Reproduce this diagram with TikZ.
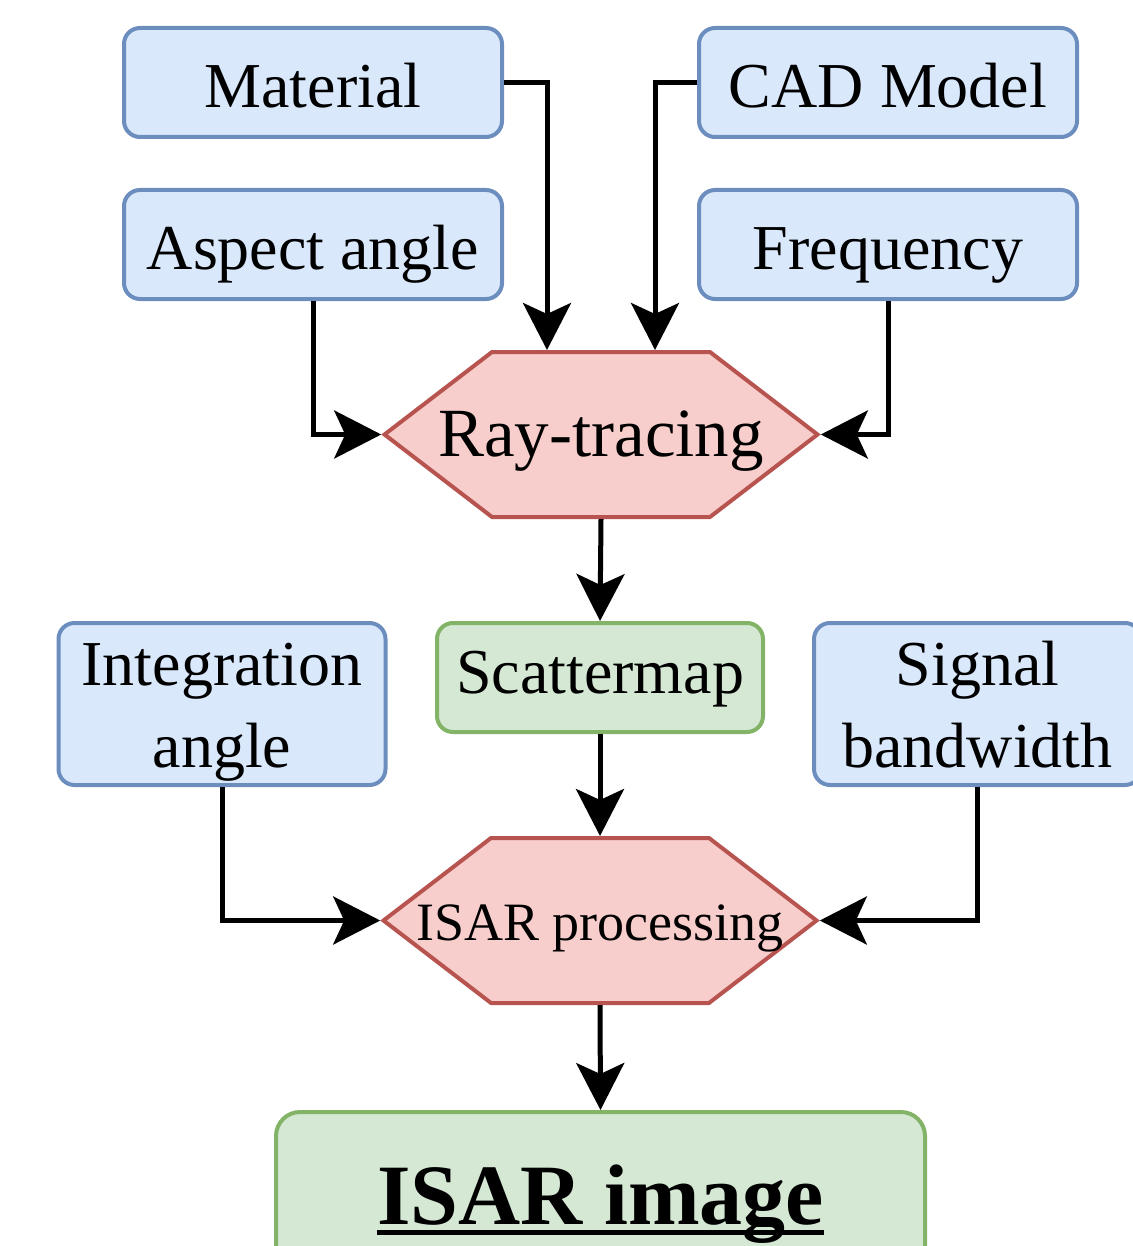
\documentclass[tikz,border=0pt]{standalone}
\usepackage{fontspec}
\setmainfont{Liberation Serif}
\usetikzlibrary{positioning,shapes.symbols,arrows.meta,calc}
\definecolor{inblue}{HTML}{DAE8FC}
\definecolor{inblueline}{HTML}{6C8EBF}
\definecolor{procred}{HTML}{F8CECC}
\definecolor{procredline}{HTML}{B85450}
\definecolor{outgreen}{HTML}{D5E8D4}
\definecolor{outgreenline}{HTML}{82B366}
\newcommand{\ulbox}[1]{\setbox0\hbox{#1}\rlap{\rule[-11pt]{\wd0}{5pt}}\box0}

\begin{document}
\begin{tikzpicture}[
  x=1pt, y=-1pt,
  box/.style={
    rectangle, rounded corners=16pt, line width=4pt,
    minimum width=378pt, minimum height=109pt, inner sep=0pt,
    font=\fontsize{64}{82}\selectfont, text height=61pt, text depth=10pt,
  },
  input/.style={box, draw=inblueline, fill=inblue},
  output/.style={box, draw=outgreenline, fill=outgreen},
  twoline/.style={
    align=center, minimum width=327pt, minimum height=162pt,
    text height=140pt, text depth=14pt,
  },
  process/.style={
    signal, signal to=west and east, signal pointer angle=75,
    draw=procredline, fill=procred, line width=4pt,
    minimum width=433pt, minimum height=165pt, inner sep=0pt,
  },
  line/.style={
    line width=5pt,
    draw=black,
    -{Stealth[length=47pt, width=48pt, inset=11pt]},
  }]
  \useasboundingbox (0,0) rectangle (1132,1246);

  \foreach \n/\x/\y/\t in
  {mat/313/82.5/Material, cad/888/82.5/CAD Model,
    asp/313/244.5/Aspect angle, frq/888/244.5/Frequency}
  {
    \node[input] (\n) at (\x,\y) {\t};
  }

  % hexagon labels are wider than the flat edges, so their width is kept out
  \node[process, font=\fontsize{69}{82}\selectfont,
    text height=58pt, text depth=14pt] (rt) at (601,434.5)
    {\makebox[0pt]{Ray-tracing}};
  \node[output, minimum width=326pt, text height=55pt, text depth=24pt]
    (sc) at (600,677.5) {Scattermap};
  \node[input, twoline] (ia) at (222,704) {Integration\\angle};
  \node[input, twoline] (sb) at (977.5,704) {Signal\\bandwidth};
  \node[process, font=\fontsize{54}{64}\selectfont,
    text height=50pt, text depth=11pt] (isp) at (600,920.5)
    {\makebox[0pt]{ISAR processing}};
  \node[output, anchor=north, minimum width=649pt, minimum height=168pt,
    rounded corners=24pt, font=\fontsize{86}{100}\selectfont\bfseries,
    text height=70pt, text depth=14pt] (img) at (600.5,1110) {\ulbox{ISAR image}};

  \draw[line] (mat.east) -| ([xshift=-54pt]rt.north);
  \draw[line] (cad.west) -| ([xshift=54pt]rt.north);
  \draw[line] (asp.south) |- (rt.west);
  \draw[line] (frq.south) |- (rt.east);
  \draw[line] (rt.south) -- (sc.north);
  \draw[line] (sc.south) -- (isp.north);
  \draw[line] (ia.south) |- (isp.west);
  \draw[line] (sb.south) |- (isp.east);
  \draw[line] (isp.south) -- (img.north);
\end{tikzpicture}
\end{document}
